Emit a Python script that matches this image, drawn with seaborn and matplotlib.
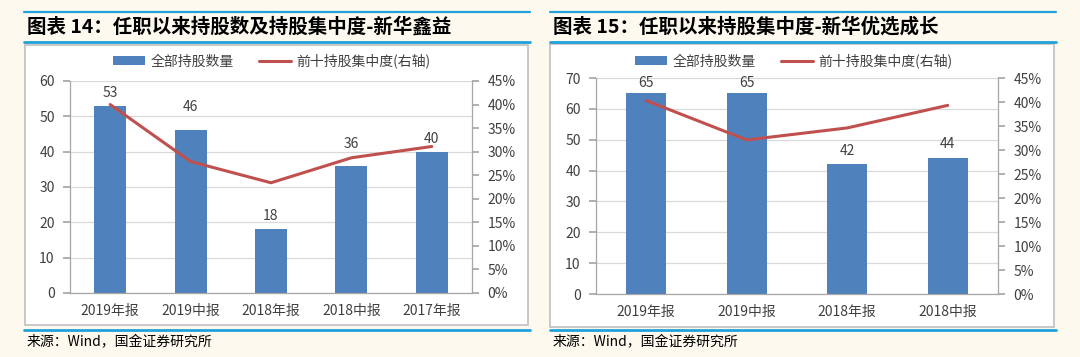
import matplotlib
matplotlib.use('Agg')
import matplotlib.pyplot as plt
import seaborn as sns
import pandas as pd
from matplotlib.patches import Rectangle, Patch
from matplotlib.lines import Line2D
from matplotlib.ticker import FuncFormatter, MultipleLocator

sns.set_theme(style='white')
plt.rcParams['font.family'] = ['Noto Sans CJK SC', 'DejaVu Sans']

left_title = '图表 14：任职以来持股数及持股集中度-新华鑫益'
left_cats = ['2019年报', '2019中报', '2018年报', '2018中报', '2017年报']
left_counts = [53, 46, 18, 36, 40]
left_conc = [40.0, 27.9, 23.4, 28.7, 31.1]

right_title = '图表 15：任职以来持股集中度-新华优选成长'
right_cats = ['2019年报', '2019中报', '2018年报', '2018中报']
right_counts = [65, 65, 42, 44]
right_conc = [40.3, 32.1, 34.6, 39.3]

bar_label = '全部持股数量'
line_label = '前十持股集中度(右轴)'
source = '来源：Wind，国金证券研究所'

BAR_C = '#4F81BD'
LINE_C = '#C0504D'
BLUE_RULE = '#1EA2DC'
TXT = '#404040'
GRID = '#D9D9D9'
AX_C = '#A6A6A6'

W, H = 1080, 357
fig = plt.figure(figsize=(W / 100, H / 100), dpi=100, facecolor='#FEF9EF')


def fx(x):
    return x / W


def fy(y):
    return 1 - y / H


def hline(x0, x1, y, color, lw):
    fig.add_artist(Line2D([fx(x0), fx(x1)], [fy(y), fy(y)], color=color, lw=lw,
                          transform=fig.transFigure))


def panel(title, cats, counts, conc, box, rule_x, ax_box, ymax, ystep, leg_cx, label_off):
    bx0, by0, bx1, by1 = box
    # white chart box with grey border
    fig.add_artist(Rectangle((fx(bx0), fy(by1)), fx(bx1 - bx0), (by1 - by0) / H,
                             transform=fig.transFigure, facecolor='white',
                             edgecolor='#BFBFBF', lw=1.2, zorder=0))
    rx0, rx1 = rule_x
    hline(rx0, rx1, 12, BLUE_RULE, 1.6)
    hline(rx0, rx1, 42, BLUE_RULE, 2.0)
    hline(rx0, rx1, 330, BLUE_RULE, 2.0)
    fig.text(fx(rx0 + 3), fy(27), title, fontsize=14, fontweight='bold',
             color='black', va='center', ha='left')
    fig.text(fx(rx0 + 3), fy(342), source, fontsize=10, color='black',
             va='center', ha='left')

    ax0, ay0, ax1, ay1 = ax_box
    ax = fig.add_axes([fx(ax0), fy(ay1), fx(ax1 - ax0), (ay1 - ay0) / H])
    ax.set_facecolor('none')
    df = pd.DataFrame({'cat': cats, 'count': counts, 'conc': conc})
    sns.barplot(data=df, x='cat', y='count', ax=ax, color=BAR_C, width=0.4,
                saturation=1, edgecolor='none', zorder=2)
    n = len(cats)
    ax.set_xlim(-0.5, n - 0.5)
    ax.set_ylim(0, ymax)
    ax.yaxis.set_major_locator(MultipleLocator(ystep))
    ax.grid(axis='y', color=GRID, lw=0.9, zorder=0)
    ax.set_axisbelow(True)
    ax.set_xlabel('')
    ax.set_ylabel('')
    for s in ['top', 'right']:
        ax.spines[s].set_visible(False)
    for s in ['left', 'bottom']:
        ax.spines[s].set_color(AX_C)
        ax.spines[s].set_linewidth(0.9)
    ax.tick_params(axis='y', direction='out', length=5, color=AX_C, labelsize=10,
                   labelcolor=TXT, pad=6)
    ax.tick_params(axis='x', which='major', length=0, labelsize=10, labelcolor=TXT, pad=8)
    ax.set_xticks([i - 0.5 for i in range(n + 1)], minor=True)
    ax.tick_params(axis='x', which='minor', direction='out', length=4, color=AX_C)

    for i, (patch, v) in enumerate(zip(ax.patches, counts)):
        ax.annotate(str(v), (patch.get_x() + patch.get_width() / 2, patch.get_height()),
                    xytext=(0, label_off[i]), textcoords='offset pixels',
                    ha='center', va='center', fontsize=10, color=TXT)

    ax2 = ax.twinx()
    sns.lineplot(data=df, x='cat', y='conc', ax=ax2, color=LINE_C, lw=2.2, sort=False)
    ax2.set_ylim(0, 45)
    ax2.yaxis.set_major_locator(MultipleLocator(5))
    ax2.yaxis.set_major_formatter(FuncFormatter(lambda v, p: f'{v:.0f}%'))
    ax2.set_ylabel('')
    ax2.set_xlabel('')
    for s in ['top', 'left', 'bottom']:
        ax2.spines[s].set_visible(False)
    ax2.spines['right'].set_color(AX_C)
    ax2.spines['right'].set_linewidth(0.9)
    ax2.tick_params(axis='y', direction='out', length=5, color=AX_C, labelsize=10,
                    labelcolor=TXT, pad=6)
    ax2.grid(False)
    ax2.set_xlim(-0.5, n - 0.5)

    handles = [Patch(facecolor=BAR_C, edgecolor='none'),
               Line2D([0], [0], color=LINE_C, lw=2.2)]
    fig.legend(handles, [bar_label, line_label], loc='center',
               bbox_to_anchor=(fx(leg_cx), fy(61)), ncol=2, frameon=False,
               fontsize=10, handlelength=2.3, handleheight=0.6, columnspacing=1.8,
               handletextpad=0.4, labelcolor=TXT)


panel(left_title, left_cats, left_counts, left_conc,
      box=(25, 45, 528, 325), rule_x=(24, 530), ax_box=(70, 81, 472, 293),
      ymax=60, ystep=10, leg_cx=272, label_off=[13, 23, 13, 22, 13])
panel(right_title, right_cats, right_counts, right_conc,
      box=(550, 44, 1054, 327), rule_x=(550, 1056), ax_box=(596, 78, 998, 294),
      ymax=70, ystep=10, leg_cx=794, label_off=[10, 10, 13, 14])

fig.savefig('out.png', dpi=100, facecolor=fig.get_facecolor())
